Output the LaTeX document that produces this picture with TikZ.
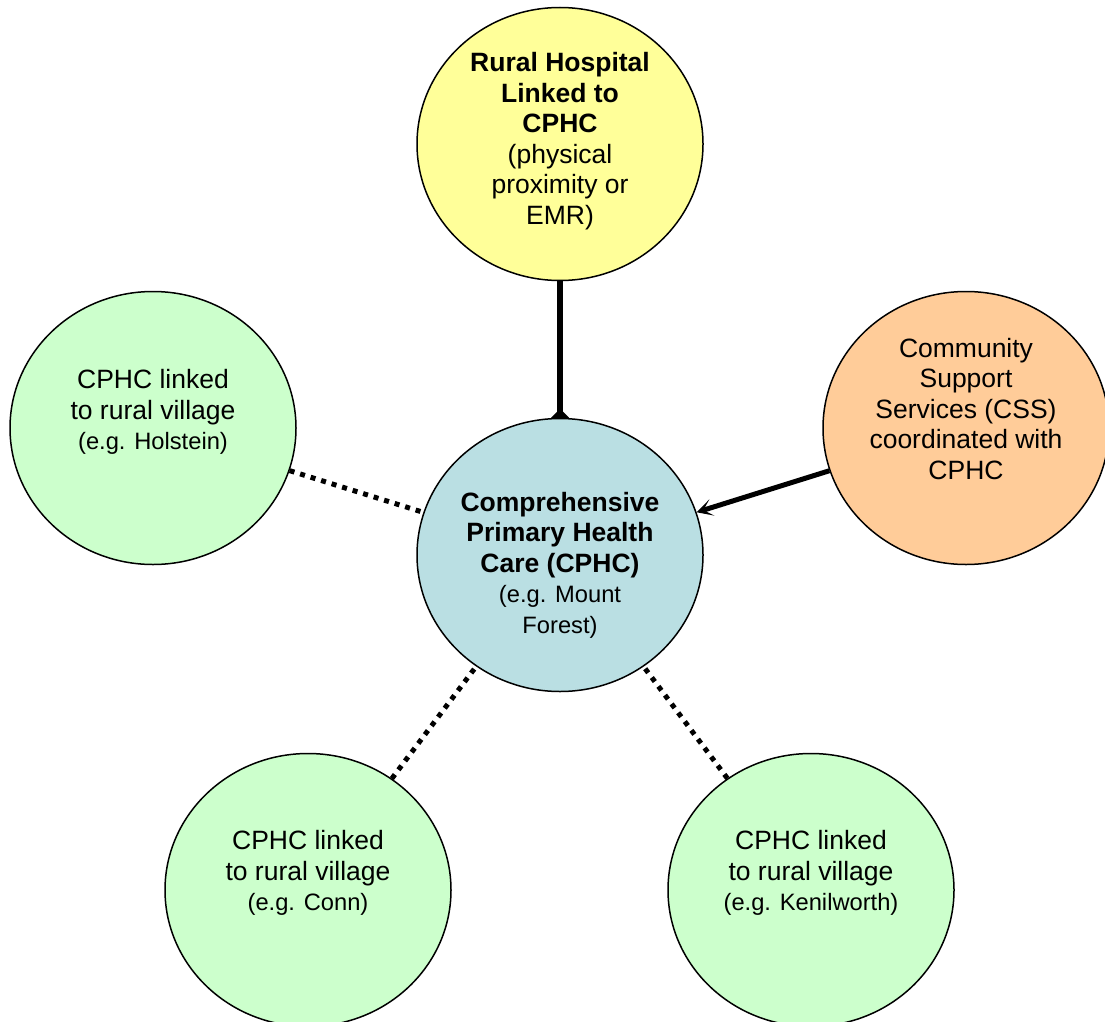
\documentclass[tikz,border=0pt]{standalone}
\usepackage{fontspec}
\setmainfont{Liberation Sans}
\usetikzlibrary{shapes.geometric,arrows.meta,backgrounds}
\definecolor{hospyellow}{RGB}{255,255,153}
\definecolor{cphcblue}{RGB}{186,223,227}
\definecolor{cssorange}{RGB}{255,204,153}
\definecolor{villgreen}{RGB}{204,255,204}
\newcommand{\smalltxt}{\fontsize{23.7}{28}\selectfont}
\tikzset{
  bubble/.style={ellipse, draw=black, line width=1.5pt, minimum width=286pt, minimum height=273pt, inner sep=0pt},
  bubbletext/.style={align=center, font=\fontsize{26.5}{30.5}\selectfont, inner sep=0pt},
  dotlink/.style={line width=5pt, dash pattern=on 5pt off 6pt, line cap=butt},
  solidlink/.style={line width=5pt},
}
\begin{document}
\begin{tikzpicture}[x=1pt,y=-1pt]
\useasboundingbox (0,0) rectangle (1105,1022);
% circles
\node[bubble, fill=hospyellow] (hosp) at (560,144) {};
\node[bubble, fill=cphcblue] (cphc) at (560,555) {};
\node[bubble, fill=villgreen] (holst) at (153,428) {};
\node[bubble, fill=cssorange] (css) at (966,428) {};
\node[bubble, fill=villgreen] (conn) at (308,890) {};
\node[bubble, fill=villgreen] (kenil) at (811,890) {};
% texts
\node[bubbletext] (hosptext) at (560,141) {\textbf{Rural Hospital}\\\textbf{Linked to}\\\textbf{CPHC}\\(physical\\proximity or\\EMR)};
\node[bubbletext] (cphctext) at (560,565) {\textbf{Comprehensive}\\\textbf{Primary Health}\\\textbf{Care (CPHC)}\\{\smalltxt (e.g. Mount}\\{\smalltxt Forest)}};
\node[bubbletext] (holsttext) at (153,412) {CPHC linked\\to rural village\\{\smalltxt (e.g. Holstein)}};
\node[bubbletext] (csstext) at (966,409) {Community\\Support\\Services (CSS)\\coordinated with\\CPHC};
\node[bubbletext] (conntext) at (308,873) {CPHC linked\\to rural village\\{\smalltxt (e.g. Conn)}};
\node[bubbletext] (keniltext) at (811,873) {CPHC linked\\to rural village\\{\smalltxt (e.g. Kenilworth)}};
% connectors
\begin{pgfonlayer}{background}
\draw[line width=6.5pt, -{Diamond[length=18pt,width=18pt]}, shorten >=-9pt] (hosp) -- (cphc);
\end{pgfonlayer}
\draw[solidlink, -{Stealth[length=16pt,width=17pt,inset=9pt]}] (css) -- (cphc);
\draw[dotlink] (holst) -- (cphc);
\draw[dotlink] (conn) -- (cphc);
\draw[dotlink] (kenil) -- (cphc);
\end{tikzpicture}
\end{document}
